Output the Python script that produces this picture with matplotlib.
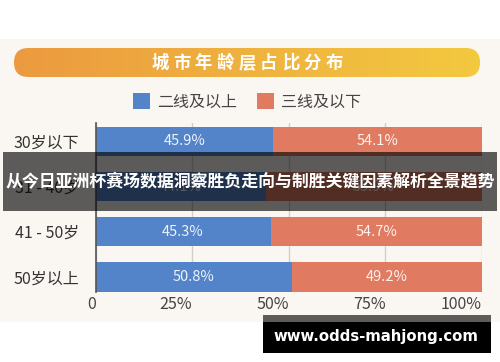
import matplotlib
matplotlib.use("Agg")
import matplotlib.pyplot as plt
import numpy as np
from matplotlib.patches import Rectangle, FancyBboxPatch, Patch
from matplotlib.colors import LinearSegmentedColormap

plt.rcParams['font.family'] = ['Noto Sans CJK SC', 'DejaVu Sans']

# data
categories = ["30岁以下", "31 - 40岁", "41 - 50岁", "50岁以上"]
tier2_up = [45.9, 44.1, 45.3, 50.8]
tier3_down = [54.1, 55.9, 54.7, 49.2]
series_names = ["二线及以上", "三线及以下"]
x_ticks = [0, 25, 50, 75, 100]
x_tick_labels = ["0", "25%", "50%", "75%", "100%"]
title = "城市年龄层占比分布"
overlay = "从今日亚洲杯赛场数据洞察胜负走向与制胜关键因素解析全景趋势"
site = "www.odds-mahjong.com"

W, H = 500, 362
blue = "#5383c8"
red = "#e07a60"
cream = "#faf6f1"

fig = plt.figure(figsize=(W / 100, H / 100), dpi=100)
fig.patch.set_facecolor("white")


def fx(x):
    return x / W


def fy(y):
    return 1 - y / H


# cream card
fig.patches.append(Rectangle((0, fy(322)), 1, (322 - 39) / H, transform=fig.transFigure,
                             facecolor=cream, edgecolor="none", zorder=-2))

# title banner with gradient
bx0, bx1, by0, by1 = 14, 480, 48, 77
bax = fig.add_axes([fx(bx0), fy(by1), (bx1 - bx0) / W, (by1 - by0) / H])
bax.set_xlim(0, bx1 - bx0)
bax.set_ylim(0, by1 - by0)
bax.axis("off")
cmap = LinearSegmentedColormap.from_list("g", ["#ec9a40", "#efb23f", "#f3c940"])
grad = np.linspace(0, 1, 256).reshape(1, -1)
im = bax.imshow(grad, cmap=cmap, aspect="auto", extent=(0, bx1 - bx0, 0, by1 - by0))
hh = (by1 - by0) / 2
clip = FancyBboxPatch((0, 0), bx1 - bx0, by1 - by0,
                      boxstyle="round,pad=0,rounding_size=%f" % hh,
                      transform=bax.transData, facecolor="none", edgecolor="none")
bax.add_patch(clip)
im.set_clip_path(clip)

step = 196 / len(title)
for i, ch in enumerate(title):
    fig.text(fx(149 + step * (i + 0.5)), fy(63), ch, color="white", fontsize=12.5,
             fontweight="bold", ha="center", va="center", zorder=4)

# main axes
ax = fig.add_axes([fx(95.5), fy(292), (482 - 95.5) / W, (292 - 123) / H])
ax.set_facecolor("none")
y = np.arange(len(categories))
ax.barh(y, tier2_up, height=0.66, color=blue, zorder=3)
ax.barh(y, tier3_down, left=tier2_up, height=0.66, color=red, zorder=3)
for i in range(len(categories)):
    ax.text(tier2_up[i] / 2, y[i], f"{tier2_up[i]:.1f}%", ha="center", va="center",
            color="white", alpha=0.9, fontsize=10.5, zorder=4)
    ax.text(tier2_up[i] + tier3_down[i] / 2, y[i], f"{tier3_down[i]:.1f}%", ha="center",
            va="center", color="white", alpha=0.9, fontsize=10.5, zorder=4)

ax.set_xlim(0, 100)
ax.set_ylim(3.34, -0.41)
ax.set_yticks(y)
ax.set_yticklabels(categories, fontsize=11.5, color="#333333")
ax.set_xticks(x_ticks)
ax.set_xticklabels(x_tick_labels, fontsize=11.5, color="#444444", ha="right")
ax.tick_params(axis="y", length=0, pad=12)
ax.tick_params(axis="x", length=0, pad=3)
ax.grid(axis="x", color="#d3cec9", linewidth=1, zorder=1)
for s in ["top", "right", "bottom"]:
    ax.spines[s].set_visible(False)
ax.spines["left"].set_color("#555555")
ax.spines["left"].set_linewidth(1.2)
ax.spines["left"].set_zorder(5)

# legend
handles = [Patch(facecolor=blue), Patch(facecolor=red)]
fig.legend(handles, series_names, loc="center", bbox_to_anchor=(fx(247), fy(102)),
           ncol=2, frameon=False, fontsize=11.5, handlelength=1.1, handleheight=1.1,
           handletextpad=0.45, columnspacing=1.2, labelcolor="#444444")

# dark overlay band
fig.patches.append(Rectangle((fx(3), fy(211)), 494 / W, 59 / H, transform=fig.transFigure,
                             facecolor="black", alpha=0.63, edgecolor="none", zorder=6))
fig.text(0.5, fy(181.5), overlay, color="white", fontsize=12.2, fontweight="bold",
         ha="center", va="center", zorder=7)

# site badge
fig.patches.append(Rectangle((fx(263), fy(322)), 228 / W, 7 / H, transform=fig.transFigure,
                             facecolor="#5d5c58", edgecolor="none", zorder=6))
fig.patches.append(Rectangle((fx(263), fy(353)), 228 / W, 31 / H, transform=fig.transFigure,
                             facecolor="black", edgecolor="none", zorder=6))
fig.text(fx(376), fy(336), site, color="white", fontsize=10.7, fontweight="bold",
         ha="center", va="center", family="DejaVu Sans", zorder=7)

fig.savefig("out.png", dpi=100)
